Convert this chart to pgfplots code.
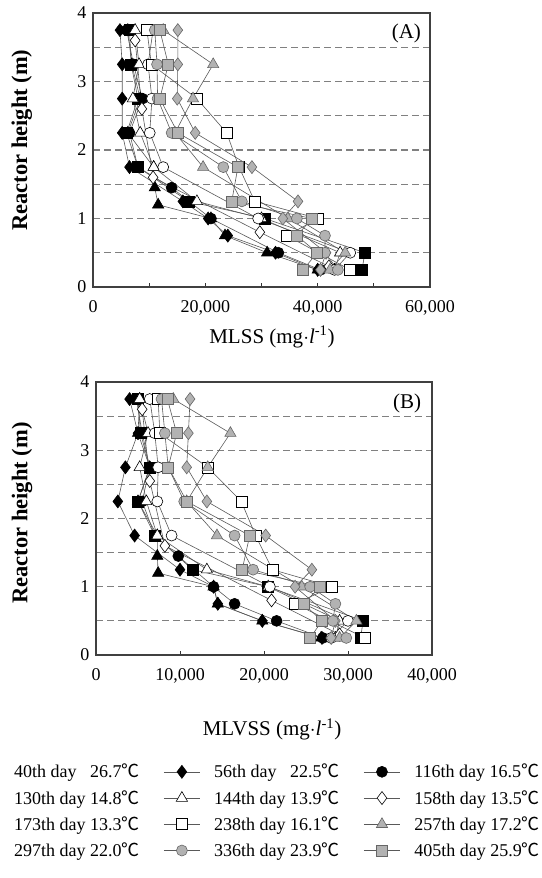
\documentclass[border=0pt]{standalone}
\usepackage{fontspec}
\setmainfont{Liberation Serif}
\newfontfamily\cjk{Noto Sans CJK SC}
\usepackage{pgfplots}
\pgfplotsset{compat=1.18}
\newcommand{\dC}{{\cjk ℃}}
\newcommand{\fs}{\fontsize{18bp}{20bp}\selectfont}
\newcommand{\fl}{\fontsize{21bp}{24bp}\selectfont}
\newcommand{\fy}{\fontsize{22.5bp}{25bp}\selectfont}
\pgfplotsset{
  panel/.style={
    scale only axis,
    scaled x ticks=false,
    ymin=0, ymax=4,
    ytick={0,1,2,3,4},
    minor ytick={0.5,1,...,3.5},
    yminorgrids,
    minor grid style={black!50, line width=1.2bp, dash pattern=on 6.5bp off 4.5bp},
    minor tick length=0pt,
    ytick style={draw=none},
    xtick style={line width=0.8bp, black!80},
    major tick length=4bp,
    tick align=inside,
    xtick pos=bottom, ytick pos=left,
    axis line style={line width=1.3bp, black!75},
    tick label style={font=\fs},
    /pgf/number format/assume math mode=true,
    xticklabel style={yshift=-10bp},
    yticklabel style={xshift=-3bp},
    xlabel style={font=\fl},
    ylabel style={font=\fy},
    legend image code/.code={
      \draw[mark repeat=2,mark phase=2,#1] plot coordinates {(0bp,0bp) (18bp,0bp) (36bp,0bp)};},
  },
  ln/.style={color=black!65, line width=0.6bp, mark size=5.5bp},
  bk/.style={ln, mark options={solid, fill=black, draw=black, line width=0.6bp}},
  wh/.style={ln, mark options={solid, fill=white, draw=black, line width=0.6bp}},
  gr/.style={ln, mark options={solid, fill=black!30, draw=black!60, line width=0.6bp}},
  big/.style={mark size=6.5bp},
  nolg/.style={legend image code/.code={}},
}
\begin{document}
\begin{tikzpicture}
\useasboundingbox (0,0) rectangle (542bp,878bp);
% ---------------- Panel A ----------------
\begin{axis}[panel,
  at={(93bp,591bp)}, anchor=south west,
  width=337bp, height=274bp,
  xmin=0, xmax=60000,
  xtick={0,10000,...,60000},
  xticklabels={0,,{20,000},,{40,000},,{60,000}},
  xlabel={MLSS (mg$\cdot$\textit{l}\textsuperscript{-1})},
  xlabel style={at={(axis description cs:0.531,-0.182)}, anchor=center},
  ylabel={\textbf{Reactor height (m)}},
  ylabel style={at={(axis description cs:-0.211,0.536)}, anchor=center},
]
\addplot[bk, mark=square*] coordinates {(6500,3.75) (6800,3.25) (8000,2.75) (6000,2.25) (8000,1.75) (17000,1.25) (30600,1.0) (48400,0.5) (47900,0.25)};
\addplot[bk, big, mark=diamond*] coordinates {(4800,3.75) (5200,3.25) (5200,2.75) (5200,2.25) (6500,1.75) (16000,1.25) (20500,1.0) (24000,0.75) (32500,0.5) (40000,0.25)};
\addplot[bk, mark=*] coordinates {(6000,3.75) (7200,3.25) (8800,2.75) (6500,2.25) (8000,1.75) (14000,1.45) (21000,1.0) (33000,0.5) (40500,0.25)};
\addplot[bk, big, mark=triangle*] coordinates {(6200,3.75) (6900,3.25) (8400,2.75) (6200,2.25) (10800,1.75) (11000,1.45) (11600,1.2) (21000,1.0) (23500,0.75) (31000,0.5) (40000,0.25)};
\addplot[wh, big, mark=triangle*] coordinates {(7500,3.75) (8200,3.25) (7100,2.75) (8400,2.25) (10800,1.75) (18500,1.25) (30000,1.0) (44000,0.5) (43000,0.25)};
\addplot[wh, big, mark=diamond*] coordinates {(7500,3.6) (8700,2.6) (10700,1.6) (29700,0.8) (42000,0.3)};
\addplot[wh, mark=*] coordinates {(10700,3.75) (9800,3.25) (10500,2.75) (10100,2.25) (12500,1.75) (29400,1.0) (45800,0.5) (43000,0.25)};
\addplot[wh, mark=square*] coordinates {(9600,3.75) (10400,3.25) (18500,2.75) (23800,2.25) (26000,1.75) (28800,1.25) (40100,1.0) (34500,0.75) (45800,0.25)};
\addplot[gr, big, mark=triangle*] coordinates {(12500,3.75) (21400,3.25) (17800,2.75) (14600,2.25) (19600,1.75) (34700,1.0) (44900,0.5) (42200,0.25)};
\addplot[gr, big, mark=diamond*] coordinates {(15100,3.75) (15100,3.25) (15000,2.75) (18200,2.25) (28300,1.75) (36500,1.25) (33800,1.0) (41500,0.5) (40500,0.25)};
\addplot[gr, mark=*] coordinates {(11000,3.75) (11400,3.25) (11500,2.75) (14000,2.25) (23200,1.75) (26500,1.25) (36300,1.0) (41300,0.75) (41300,0.5) (43600,0.25)};
\addplot[gr, mark=square*] coordinates {(11900,3.75) (13400,3.25) (11900,2.75) (15100,2.25) (25800,1.75) (24700,1.25) (39000,1.0) (36300,0.75) (39900,0.5) (37400,0.25)};
\node[font=\fl] at (rel axis cs:0.93,0.927) {(A)};
\end{axis}
% ---------------- Panel B ----------------
\begin{axis}[panel,
  at={(96bp,223bp)}, anchor=south west,
  width=336bp, height=273bp,
  xmin=0, xmax=40000,
  xtick={0,10000,...,40000},
  xticklabels={0,{10,000},{20,000},{30,000},{40,000}},
  xlabel={MLVSS (mg$\cdot$\textit{l}\textsuperscript{-1})},
  xlabel style={at={(axis description cs:0.524,-0.272)}, anchor=center},
  ylabel={\textbf{Reactor height (m)}},
  ylabel style={at={(axis description cs:-0.22,0.52)}, anchor=center},
  legend columns=3,
  legend cell align=left,
  legend style={draw=none, fill=none, font=\fs, inner sep=0pt,
    at={(axis description cs:-0.286,-0.392)}, anchor=north west,
    row sep=7bp,
    nodes={inner sep=2bp},
    /tikz/every odd column/.append style={column sep=12bp},
    /tikz/every even column/.append style={column sep=22bp}},
]
\addplot[bk, nolg, mark=square*] coordinates {(5000,3.75) (5300,3.25) (6400,2.75) (5000,2.25) (7000,1.75) (11500,1.25) (20500,1.0) (31800,0.5) (31500,0.25)};
\addlegendentry{40th day\hphantom{0} 26.7\dC}
\addplot[bk, big, mark=diamond*] coordinates {(4000,3.75) (5000,3.25) (3500,2.75) (2600,2.25) (4600,1.75) (10000,1.25) (14000,1.0) (14500,0.75) (19800,0.5) (26900,0.25)};
\addlegendentry{56th day\hphantom{0} 22.5\dC}
\addplot[bk, mark=*] coordinates {(4800,3.75) (5500,3.25) (6400,2.75) (5500,2.25) (7000,1.75) (9800,1.45) (14000,1.0) (16500,0.75) (21500,0.5) (27000,0.25)};
\addlegendentry{116th day 16.5\dC}
\addplot[bk, nolg, big, mark=triangle*] coordinates {(5200,3.75) (5000,3.25) (6400,2.75) (5000,2.25) (7300,1.75) (7300,1.45) (7400,1.2) (14000,1.0) (14500,0.75) (19800,0.5) (26800,0.25)};
\addlegendentry{130th day 14.8\dC}
\addplot[wh, big, mark=triangle*] coordinates {(5200,3.75) (6200,3.25) (5200,2.75) (6000,2.25) (7300,1.75) (13200,1.25) (20500,1.0) (29000,0.5) (28500,0.25)};
\addlegendentry{144th day 13.9\dC}
\addplot[wh, big, mark=diamond*] coordinates {(5500,3.6) (6400,2.55) (8200,1.6) (20900,0.8) (29000,0.3)};
\addlegendentry{158th day 13.5\dC}
\addplot[wh, nolg, mark=*] coordinates {(6400,3.75) (7000,3.25) (7400,2.75) (7300,2.25) (9000,1.75) (20700,1.0) (30000,0.5) (28000,0.25)};
\addlegendentry{173th day 13.3\dC}
\addplot[wh, mark=square*] coordinates {(7400,3.75) (7600,3.25) (13300,2.75) (17300,2.25) (19000,1.75) (21000,1.25) (28100,1.0) (23700,0.75) (32000,0.25)};
\addlegendentry{238th day 16.1\dC}
\addplot[gr, big, mark=triangle*] coordinates {(9200,3.75) (16000,3.25) (13300,2.75) (10800,2.25) (14400,1.75) (24500,1.0) (31000,0.5) (29000,0.25)};
\addlegendentry{257th day 17.2\dC}
\addplot[gr, nolg, big, mark=diamond*] coordinates {(11200,3.75) (11000,3.25) (10800,2.75) (13200,2.25) (20200,1.75) (25700,1.25) (23700,1.0) (28500,0.5) (28000,0.25)};
\addlegendentry{297th day 22.0\dC}
\addplot[gr, mark=*] coordinates {(7800,3.75) (8200,3.25) (8600,2.75) (10500,2.25) (16500,1.75) (18700,1.25) (25500,1.0) (28500,0.75) (28200,0.5) (29800,0.25)};
\addlegendentry{336th day 23.9\dC}
\addplot[gr, mark=square*] coordinates {(8500,3.75) (9600,3.25) (8600,2.75) (10800,2.25) (18300,1.75) (17400,1.25) (26700,1.0) (24700,0.75) (26900,0.5) (25500,0.25)};
\addlegendentry{405th day 25.9\dC}
\node[font=\fl] at (rel axis cs:0.926,0.923) {(B)};
\end{axis}
\end{tikzpicture}
\end{document}
